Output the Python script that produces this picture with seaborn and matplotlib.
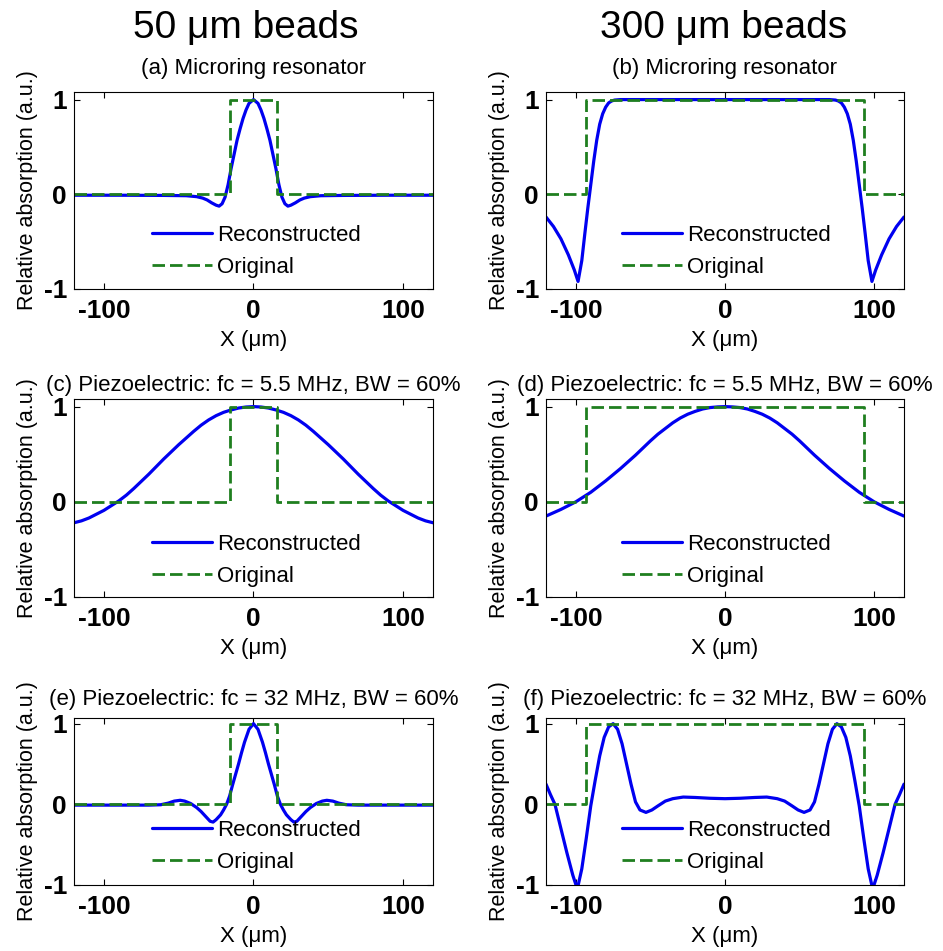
import matplotlib
matplotlib.use("Agg")
import matplotlib.pyplot as plt
import seaborn as sns
import pandas as pd

sns.set_style("ticks")
plt.rcParams['font.family'] = ['Liberation Sans', 'DejaVu Sans']
plt.rcParams['axes.unicode_minus'] = False
plt.rcParams['text.color'] = 'black'
plt.rcParams['axes.labelcolor'] = 'black'
plt.rcParams['xtick.color'] = 'black'
plt.rcParams['ytick.color'] = 'black'
plt.rcParams['axes.edgecolor'] = 'black'

# ---------------- data ----------------
# Original (step) profiles
orig_small_x = [-120, -16, -16, 16, 16, 120]
orig_small_y = [0, 0, 1, 1, 0, 0]
orig_large_x = [-120, -93.5, -93.5, 93.5, 93.5, 120]
orig_large_y = [0, 0, 1, 1, 0, 0]

# (a) Microring, 50 um
a_x = [-120, -90, -60, -45, -38, -34, -31, -28, -25, -23, -21, -19, -17, -15, -13, -11, -9, -7, -5, -3, 0,
       3, 5, 7, 9, 11, 13, 15, 17, 19, 21, 23, 25, 28, 31, 34, 38, 45, 60, 90, 120]
a_y = [-0.01, -0.01, -0.012, -0.015, -0.025, -0.04, -0.06, -0.09, -0.115, -0.125, -0.1, -0.03, 0.1, 0.27,
       0.42, 0.57, 0.69, 0.8, 0.89, 0.96, 1.0, 0.96, 0.89, 0.8, 0.69, 0.57, 0.42, 0.27, 0.1, -0.03, -0.1,
       -0.125, -0.115, -0.09, -0.06, -0.04, -0.025, -0.015, -0.012, -0.01, -0.01]

# (b) Microring, 300 um
b_x = [-120, -115, -110, -105, -101, -98.5, -96, -94, -92, -90, -88, -86, -84, -82, -80, -78, -76, -74, -70, 0,
       70, 74, 76, 78, 80, 82, 84, 86, 88, 90, 92, 94, 96, 98.5, 101, 105, 110, 115, 120]
b_y = [-0.24, -0.34, -0.47, -0.64, -0.8, -0.92, -0.7, -0.42, -0.15, 0.1, 0.35, 0.57, 0.74, 0.85, 0.92, 0.965,
       0.985, 0.995, 1.0, 1.0, 1.0, 0.995, 0.985, 0.965, 0.92, 0.85, 0.74, 0.57, 0.35, 0.1, -0.15, -0.42, -0.7,
       -0.92, -0.8, -0.64, -0.47, -0.34, -0.24]

# (c) Piezo 5.5 MHz, 50 um
c_x = [-120, -115, -110, -105, -100, -95, -90, -85, -80, -75, -70, -65, -60, -55, -50, -45, -40, -35, -30,
       -25, -20, -15, -10, -5, 0, 5, 10, 15, 20, 25, 30, 35, 40, 45, 50, 55, 60, 65, 70, 75, 80, 85, 90, 95,
       100, 105, 110, 115, 120]
c_y = [-0.22, -0.2, -0.17, -0.13, -0.09, -0.04, 0.01, 0.07, 0.14, 0.215, 0.29, 0.37, 0.45, 0.525, 0.6, 0.67,
       0.74, 0.805, 0.86, 0.905, 0.94, 0.965, 0.985, 0.996, 1.0, 0.996, 0.985, 0.965, 0.94, 0.905, 0.86, 0.805,
       0.74, 0.67, 0.6, 0.525, 0.45, 0.37, 0.29, 0.215, 0.14, 0.07, 0.01, -0.04, -0.09, -0.13, -0.17, -0.2,
       -0.22]

# (d) Piezo 5.5 MHz, 300 um
d_x = c_x
d_y = [-0.15, -0.115, -0.08, -0.04, 0.0, 0.05, 0.1, 0.16, 0.22, 0.285, 0.35, 0.42, 0.49, 0.565, 0.64, 0.71,
       0.77, 0.83, 0.88, 0.92, 0.95, 0.975, 0.99, 0.997, 1.0, 0.997, 0.99, 0.975, 0.95, 0.92, 0.88, 0.83,
       0.77, 0.71, 0.64, 0.565, 0.49, 0.42, 0.35, 0.285, 0.22, 0.16, 0.1, 0.05, 0.0, -0.04, -0.08, -0.115,
       -0.15]

# (e) Piezo 32 MHz, 50 um
e_x = [-120, -90, -70, -62, -57, -53, -49, -46, -42, -38, -35, -32, -29, -27, -25, -22, -20, -18, -16, -14,
       -12, -10, -8, -6, -3, 0, 3, 6, 8, 10, 12, 14, 16, 18, 20, 22, 25, 27, 29, 32, 35, 38, 42, 46, 49, 53,
       57, 62, 70, 90, 120]
e_y = [-0.01, -0.01, -0.01, -0.005, 0.015, 0.04, 0.05, 0.04, 0.01, -0.04, -0.09, -0.15, -0.21, -0.22, -0.19,
       -0.13, -0.07, 0.0, 0.1, 0.24, 0.37, 0.5, 0.64, 0.77, 0.93, 1.0, 0.93, 0.77, 0.64, 0.5, 0.37, 0.24, 0.1,
       0.0, -0.07, -0.13, -0.19, -0.22, -0.21, -0.15, -0.09, -0.04, 0.01, 0.04, 0.05, 0.04, 0.015, -0.005,
       -0.01, -0.01, -0.01]

# (f) Piezo 32 MHz, 300 um
f_x = [-120, -117, -114, -110, -106, -102, -99, -96, -93, -90, -87, -84, -81, -78, -75, -72, -69, -66, -63,
       -60, -57, -53, -49, -45, -40, -35, -28, -20, -10, 0, 10, 20, 28, 35, 40, 45, 49, 53, 57, 60, 63, 66,
       69, 72, 75, 78, 81, 84, 87, 90, 93, 96, 99, 102, 106, 110, 114, 117, 120]
f_y = [0.25, 0.12, 0.0, -0.3, -0.6, -0.88, -1.05, -0.8, -0.42, -0.02, 0.3, 0.6, 0.83, 0.96, 1.0, 0.93, 0.75,
       0.5, 0.25, 0.03, -0.07, -0.1, -0.07, -0.02, 0.04, 0.07, 0.09, 0.085, 0.075, 0.07, 0.075, 0.085, 0.09,
       0.07, 0.04, -0.02, -0.07, -0.1, -0.07, 0.03, 0.25, 0.5, 0.75, 0.93, 1.0, 0.96, 0.83, 0.6, 0.3, -0.02,
       -0.42, -0.8, -1.05, -0.88, -0.6, -0.3, 0.0, 0.12, 0.25]

titles = ["(a) Microring resonator", "(b) Microring resonator",
          "(c) Piezoelectric: fc = 5.5 MHz, BW = 60%", "(d) Piezoelectric: fc = 5.5 MHz, BW = 60%",
          "(e) Piezoelectric: fc = 32 MHz, BW = 60%", "(f) Piezoelectric: fc = 32 MHz, BW = 60%"]
column_titles = ["50 \u03bcm beads", "300 \u03bcm beads"]
xticks = [-100, 0, 100]
yticks = [-1, 0, 1]

recon = [(a_x, a_y), (b_x, b_y), (c_x, c_y), (d_x, d_y), (e_x, e_y), (f_x, f_y)]
origs = [(orig_small_x, orig_small_y), (orig_large_x, orig_large_y)]

# ---------------- layout ----------------
W, H = 943, 951
fig = plt.figure(figsize=(W / 100, H / 100), dpi=100)
fig.patch.set_facecolor("white")

col_lr = [(74, 433), (546, 904)]
row_tb = [(92, 289), (399, 597), (718, 885)]
ytop = [1.08, 1.08, 1.07]
title_pad = [13, 6, 9]
leg_top = [0.325, 0.318, 0.39]
leg_x = [0.217, 0.212]

BLUE = "#0000f0"
GREEN = "#1f7f1f"

for i in range(6):
    row, col = divmod(i, 2)
    l, r = col_lr[col]
    t, b = row_tb[row]
    ax = fig.add_axes([l / W, 1 - b / H, (r - l) / W, (b - t) / H])
    xr, yr = recon[i]
    xo, yo = origs[col]
    dfr = pd.DataFrame({"x": xr, "y": yr})
    dfo = pd.DataFrame({"x": xo, "y": yo})
    sns.lineplot(data=dfr, x="x", y="y", ax=ax, color=BLUE, linewidth=2.3,
                 label="Reconstructed", estimator=None, sort=False)
    sns.lineplot(data=dfo, x="x", y="y", ax=ax, color=GREEN, linewidth=2.0,
                 linestyle=(0, (4.5, 1.8)), label="Original", estimator=None, sort=False)
    ax.set_xlim(-120, 120)
    ax.set_ylim(-1, ytop[row])
    ax.set_xticks(xticks)
    ax.set_yticks(yticks)
    ax.set_xticklabels([str(v) for v in xticks], fontsize=19, fontweight="bold")
    ax.set_yticklabels([str(v) for v in yticks], fontsize=19, fontweight="bold")
    ax.tick_params(direction="in", length=4, width=0.8, top=True, right=True, pad=5)
    ax.tick_params(axis="x", pad=7)
    for s in ax.spines.values():
        s.set_linewidth(0.8)
        s.set_color("black")
    ax.set_xlabel("X (\u03bcm)", fontsize=16, labelpad=5)
    ax.set_ylabel("Relative absorption (a.u.)", fontsize=15.5, labelpad=4)
    ax.set_title(titles[i], fontsize=16, pad=title_pad[row])
    ax.legend(loc="upper left", bbox_to_anchor=(leg_x[col], leg_top[row]), frameon=False,
              fontsize=16, handlelength=2.7, handletextpad=0.25, labelspacing=0.5,
              borderpad=0, borderaxespad=0)

fig.text(246 / W, 1 - 38 / H, column_titles[0], ha="center", va="baseline", fontsize=28)
fig.text(724 / W, 1 - 38 / H, column_titles[1], ha="center", va="baseline", fontsize=28)

fig.savefig("out.png", dpi=100, facecolor="white")
